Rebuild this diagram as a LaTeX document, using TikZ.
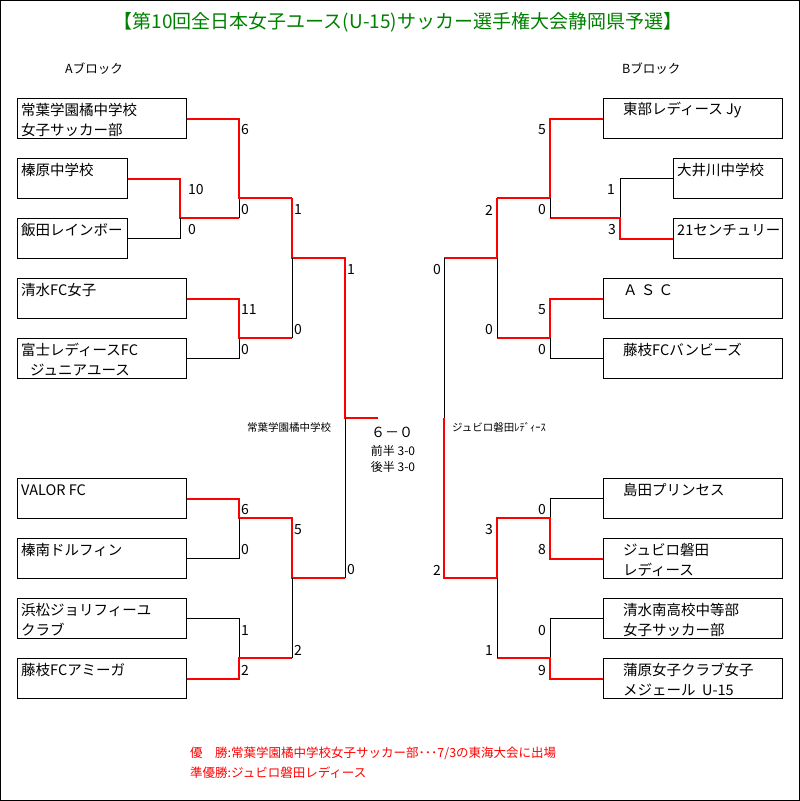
\documentclass[tikz,border=0pt]{standalone}
\usepackage{fontspec}
\setmainfont{Noto Sans CJK JP}
\definecolor{ttlgreen}{RGB}{0,128,0}
\definecolor{winred}{RGB}{255,0,0}
\begin{document}
\begin{tikzpicture}[x=1pt,y=-1pt,
  teambox/.style={draw=black,line width=1pt,minimum width=#1,minimum height=40pt,inner sep=0pt,anchor=north west},
  teambox/.default=169pt,
  tname/.style={anchor=west,inner sep=0pt,font=\fontsize{14.5}{16}\selectfont},
  scbase/.style={inner sep=0pt,font=\fontsize{14}{16}\selectfont},
  scl/.style={scbase,anchor=west},
  scr/.style={scbase,anchor=east},
  win/.style={draw=winred,line width=2pt},
  lose/.style={draw=black,line width=1pt}]
\useasboundingbox (0,0) rectangle (800,801);
\draw[line width=1pt] (0.5,0.5) rectangle (799.5,800.5);

% title and block labels
\node[inner sep=0pt,text=ttlgreen,font=\fontsize{19}{22}\selectfont] (title) at (398,22) {【第10回全日本女子ユース(U-15)サッカー選手権大会静岡県予選】};
\node[anchor=west,inner sep=0pt,font=\fontsize{12.5}{14}\selectfont] (blkA) at (65,69) {Aブロック};
\node[anchor=west,inner sep=0pt,font=\fontsize{12.5}{14}\selectfont] (blkB) at (622,69) {Bブロック};

% left boxes
\node[teambox] (L1) at (17,98) {};
\node[teambox=110pt] (L2) at (17,158) {};
\node[teambox=110pt] (L3) at (17,218) {};
\node[teambox] (L4) at (17,278) {};
\node[teambox] (L5) at (17,338) {};
\node[teambox] (L6) at (17,478) {};
\node[teambox] (L7) at (17,538) {};
\node[teambox] (L8) at (17,598) {};
\node[teambox] (L9) at (17,658) {};
\node[tname] (tL1a) at (21,110) {常葉学園橘中学校};
\node[tname] (tL1b) at (21,130) {女子サッカー部};
\node[tname] (tL2) at (21,170) {榛原中学校};
\node[tname] (tL3) at (21,230) {飯田レインボー};
\node[tname] (tL4) at (21,290) {清水FC女子};
\node[tname] (tL5a) at (21,350) {富士レディースFC};
\node[tname] (tL5b) at (30,370) {ジュニアユース};
\node[tname] (tL6) at (21,490) {VALOR FC};
\node[tname] (tL7) at (21,550) {榛南ドルフィン};
\node[tname] (tL8a) at (21,610) {浜松ジョリフィーユ};
\node[tname] (tL8b) at (21,630) {クラブ};
\node[tname] (tL9) at (21,670) {藤枝FCアミーガ};

% right boxes
\node[teambox=179pt] (R1) at (603,98) {};
\node[teambox=109pt] (R2) at (673,158) {};
\node[teambox=109pt] (R3) at (673,218) {};
\node[teambox=179pt] (R4) at (603,278) {};
\node[teambox=179pt] (R5) at (603,338) {};
\node[teambox=179pt] (R6) at (603,478) {};
\node[teambox=179pt] (R7) at (603,538) {};
\node[teambox=179pt] (R8) at (603,598) {};
\node[teambox=179pt] (R9) at (603,658) {};
\node[tname] (tR1) at (623,110) {東部レディース Jy};
\node[tname] (tR2) at (677,170) {大井川中学校};
\node[tname] (tR3) at (677,230) {21センチュリー};
\node[tname] (tR4) at (623,290) {Ａ Ｓ Ｃ};
\node[tname] (tR5) at (623,350) {藤枝FCバンビーズ};
\node[tname] (tR6) at (623,490) {島田プリンセス};
\node[tname] (tR7a) at (623,550) {ジュビロ磐田};
\node[tname] (tR7b) at (623,570) {レディース};
\node[tname] (tR8a) at (623,610) {清水南高校中等部};
\node[tname] (tR8b) at (623,630) {女子サッカー部};
\node[tname] (tR9a) at (623,670) {蒲原女子クラブ女子};
\node[tname] (tR9b) at (623,690) {メジェール\ \ U-15};

% junction coordinates
\coordinate (jL23) at (180,218);
\coordinate (jL1) at (239,198);
\coordinate (jL45) at (239,338);
\coordinate (jLU) at (292,258);
\coordinate (jL67) at (239,518);
\coordinate (jL89) at (239,658);
\coordinate (jLD) at (292,578);
\coordinate (jLF) at (345,418);
\coordinate (champ) at (378,418);
\coordinate (jR23) at (620,218);
\coordinate (jR1) at (550,198);
\coordinate (jR45) at (550,338);
\coordinate (jRU) at (497,258);
\coordinate (jR67) at (550,518);
\coordinate (jR89) at (550,658);
\coordinate (jRD) at (497,578);
\coordinate (jRF) at (444,418);

% left connectors
\draw[win] (L2.east) -| (jL23) -- (jL23 -| jL1);
\draw[lose] (L3.east) -| (jL23);
\draw[lose] (jL23 -| jL1) -- (jL1);
\draw[win] (L1.east) -| (jL1) -- (jL1 -| jLU);
\draw[win] (L4.east) -| (jL45) -- (jL45 -| jLU);
\draw[lose] (L5.east) -| (jL45);
\draw[win] (jL1 -| jLU) -- (jLU) -- (jLU -| jLF) -- (jLF) -- (champ);
\draw[lose] (jL45 -| jLU) -- (jLU);
\draw[win] (L6.east) -| (jL67) -- (jL67 -| jLD) -- (jLD) -- (jLD -| jLF);
\draw[lose] (L7.east) -| (jL67);
\draw[lose] (L8.east) -| (jL89);
\draw[win] (L9.east) -| (jL89) -- (jL89 -| jLD);
\draw[lose] (jL89 -| jLD) -- (jLD);
\draw[lose] (jLD -| jLF) -- (jLF);

% right connectors
\draw[win] (R1.west) -| (jR1) -- (jR1 -| jRU);
\draw[lose] (R2.west) -| (jR23);
\draw[win] (R3.west) -| (jR23) -- (jR23 -| jR1);
\draw[lose] (jR23 -| jR1) -- (jR1);
\draw[win] (R4.west) -| (jR45) -- (jR45 -| jRU);
\draw[lose] (R5.west) -| (jR45);
\draw[win] (jR1 -| jRU) -- (jRU) -- (jRU -| jRF);
\draw[lose] (jR45 -| jRU) -- (jRU);
\draw[lose] (jRU -| jRF) -- (jRF);
\draw[lose] (R6.west) -| (jR67);
\draw[win] (R7.west) -| (jR67) -- (jR67 -| jRD) -- (jRD) -- (jRD -| jRF) -- (jRF);
\draw[lose] (R8.west) -| (jR89);
\draw[win] (R9.west) -| (jR89) -- (jR89 -| jRD);
\draw[lose] (jR89 -| jRD) -- (jRD);

% left scores
\node[scl] (sa1) at (241,130) {6};
\node[scl] (sa2) at (188,190) {10};
\node[scl] (sa3) at (241,210) {0};
\node[scl] (sa4) at (188,230) {0};
\node[scl] (sa5) at (294,210) {1};
\node[scl] (sa6) at (347,270) {1};
\node[scl] (sa7) at (241,310) {11};
\node[scl] (sa8) at (294,330) {0};
\node[scl] (sa9) at (241,350) {0};
\node[scl] (sb1) at (241,510) {6};
\node[scl] (sb2) at (241,550) {0};
\node[scl] (sb3) at (294,530) {5};
\node[scl] (sb4) at (347,570) {0};
\node[scl] (sb5) at (241,630) {1};
\node[scl] (sb6) at (294,650) {2};
\node[scl] (sb7) at (241,670) {2};

% right scores
\node[scr] (sc1) at (546,130) {5};
\node[scr] (sc2) at (546,210) {0};
\node[scr] (sc3) at (615,190) {1};
\node[scr] (sc4) at (616,230) {3};
\node[scr] (sc5) at (493,210) {2};
\node[scr] (sc6) at (441,270) {0};
\node[scr] (sc7) at (546,310) {5};
\node[scr] (sc8) at (493,330) {0};
\node[scr] (sc9) at (546,350) {0};
\node[scr] (sd1) at (546,510) {0};
\node[scr] (sd2) at (493,530) {3};
\node[scr] (sd3) at (546,550) {8};
\node[scr] (sd4) at (441,570) {2};
\node[scr] (sd5) at (546,630) {0};
\node[scr] (sd6) at (493,650) {1};
\node[scr] (sd7) at (546,670) {9};

% final
\node[anchor=west,inner sep=0pt,font=\fontsize{10.5}{12}\selectfont] (finL) at (247,427) {常葉学園橘中学校};
\node[anchor=west,inner sep=0pt,font=\fontsize{10.5}{12}\selectfont] (finR) at (452,427) {ジュビロ磐田ﾚﾃﾞｨｰｽ};
\node[inner sep=0pt,font=\fontsize{14}{16}\selectfont] (score) at (392,432) {６－０};
\node[inner sep=0pt,font=\fontsize{12}{14}\selectfont] (half1) at (393,451) {前半 3-0};
\node[inner sep=0pt,font=\fontsize{12}{14}\selectfont] (half2) at (393,467) {後半 3-0};

% result notes
\node[anchor=west,inner sep=0pt,text=winred,font=\fontsize{12.5}{14}\selectfont] (res1) at (190,753) {優　勝:常葉学園橘中学校女子サッカー部･･･7/3の東海大会に出場};
\node[anchor=west,inner sep=0pt,text=winred,font=\fontsize{12.5}{14}\selectfont] (res2) at (190,773) {準優勝:ジュビロ磐田レディース};
\end{tikzpicture}
\end{document}
